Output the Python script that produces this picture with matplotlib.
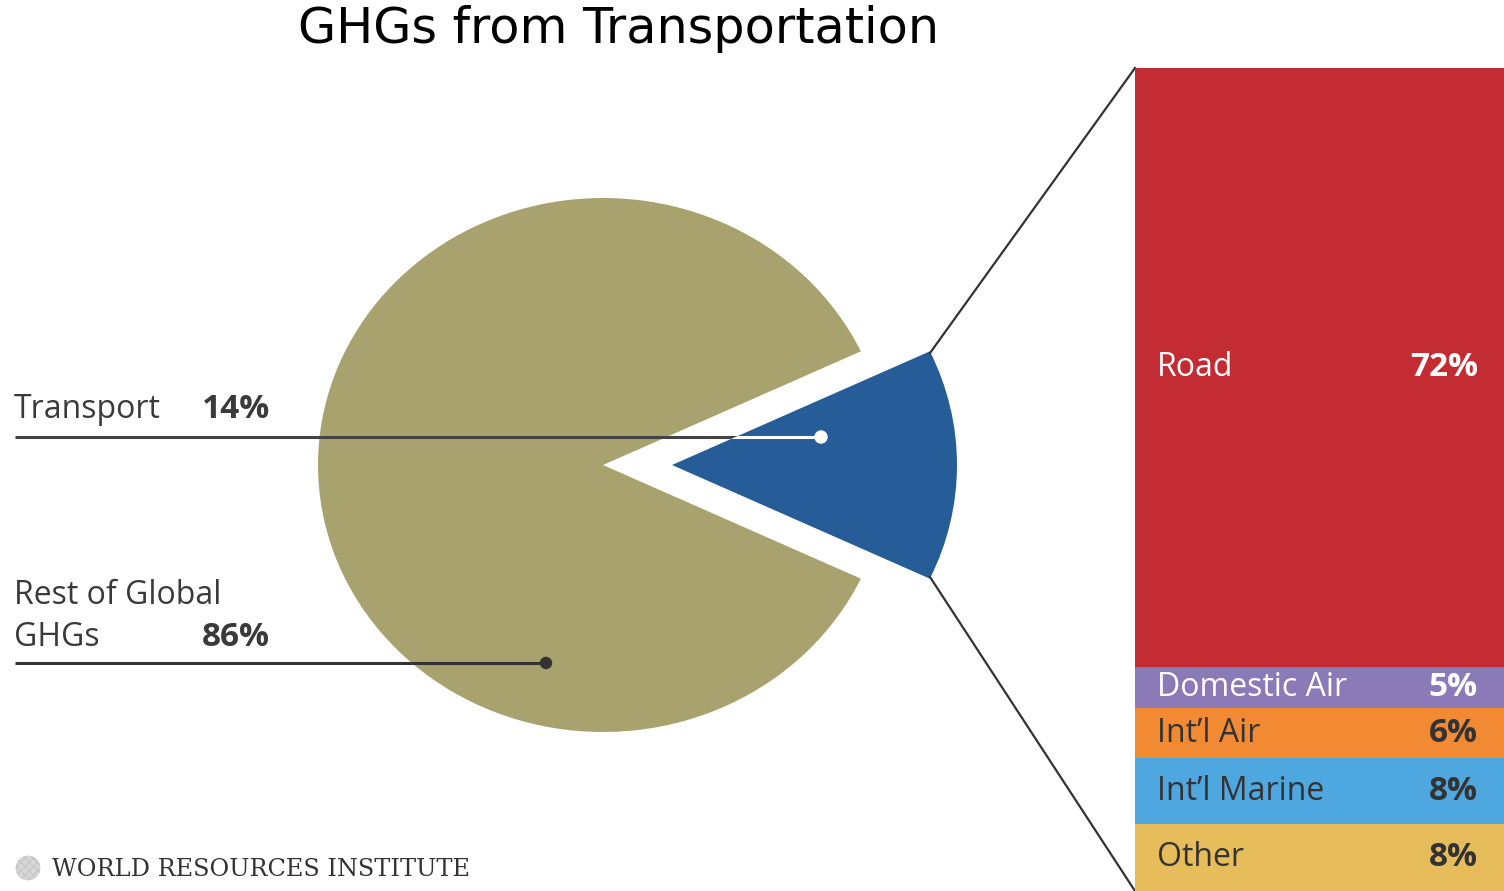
import matplotlib
matplotlib.use("Agg")
import matplotlib.pyplot as plt
from matplotlib.patches import Circle

# data
pie_labels = ["Transport", "Rest of Global\nGHGs"]
pie_values = [14, 86]
modes = ["Road", "Domestic Air", "Int\u2019l Air", "Int\u2019l Marine", "Other"]
mode_values = [72, 5, 6, 8, 8]

olive = "#A7A26E"
blue = "#265C98"
mode_colors = ["#C42C34", "#8A7AB8", "#F28A33", "#4EA7DE", "#E7BD5B"]
mode_text = ["white", "white", "#333333", "#333333", "#333333"]
dark = "#3a3a3a"

W, H = 1504, 891
fig = plt.figure(figsize=(W / 100, H / 100), dpi=100)
fig.patch.set_facecolor("white")

# pie axes: unit radius = 285 px horizontally, 267 px vertically, centre (603, 465)
cx, cy, rx, ry = 603, 465, 285, 267
pax = fig.add_axes([0, 0, 1, 1])
wedges, _ = pax.pie(pie_values, colors=[blue, olive], startangle=-pie_values[0] * 3.6 / 2,
                    explode=[69 / rx, 0], radius=1, wedgeprops=dict(linewidth=0))
pax.set_aspect("auto")
pax.set_xlim(-cx / rx, (W - cx) / rx)
pax.set_ylim(-(H - cy) / ry, cy / ry)
pax.axis("off")

# overlay in pixel coordinates
ov = fig.add_axes([0, 0, 1, 1])
ov.set_xlim(0, W)
ov.set_ylim(H, 0)
ov.axis("off")
ov.patch.set_alpha(0)

ov.text(619, 29, "GHGs from Transportation", ha="center", va="center",
        fontsize=35.5, family="DejaVu Sans", color="black")

lab_font = "Open Sans"
# transport label and leader
ov.text(14, 409, "Transport", ha="left", va="center", fontsize=23, family=lab_font, color=dark)
ov.text(270, 409, f"{pie_values[0]}%", ha="right", va="center", fontsize=24,
        family=lab_font, weight="bold", color=dark)
ov.plot([15, 821], [437, 437], color="#444444", lw=2.2, solid_capstyle="butt")
wl, = ov.plot([15, 821], [437, 437], color="white", lw=2.2, solid_capstyle="butt")
wl.set_clip_path(wedges[0])
ov.add_patch(Circle((821, 437), 6, color="white", zorder=5))

# rest label and leader
ov.text(14, 595, "Rest of Global", ha="left", va="center", fontsize=23, family=lab_font, color=dark)
ov.text(14, 637, "GHGs", ha="left", va="center", fontsize=23, family=lab_font, color=dark)
ov.text(270, 637, f"{pie_values[1]}%", ha="right", va="center", fontsize=24,
        family=lab_font, weight="bold", color=dark)
ov.plot([15, 546], [663, 663], color="#333333", lw=2.2, solid_capstyle="butt")
ov.add_patch(Circle((546, 663), 5.5, color="#333333", zorder=5))

# connector lines
ov.plot([930, 1135], [353, 68], color="#333333", lw=1.6)
ov.plot([930, 1135], [577, 891], color="#333333", lw=1.6)

# footer
ov.add_patch(Circle((28, 868), 12, facecolor="#d8d8d8", edgecolor="#c8c8c8",
                    hatch="xxxx", lw=0.5))
ov.text(52, 869, "WORLD RESOURCES INSTITUTE", ha="left", va="center", fontsize=17.3,
        family="DejaVu Serif", color="#333333")

# stacked bar
bax = fig.add_axes([1135 / W, 0, (W - 1135) / W, (H - 68) / H])
bottom = 0
for name, val, col, tc in zip(modes, mode_values, mode_colors, mode_text):
    bax.bar(0, val, bottom=bottom, width=1, color=col, linewidth=0)
    mid = bottom + val / 2
    bax.text(22 / 369, mid, name, transform=bax.get_yaxis_transform(), ha="left",
             va="center", fontsize=23, family=lab_font, color=tc)
    bax.text(1 - 26 / 369, mid, f"{val}%", transform=bax.get_yaxis_transform(),
             ha="right", va="center", fontsize=24, family=lab_font, weight="bold", color=tc)
    bottom += val
bax.set_xlim(-0.5, 0.5)
bax.set_ylim(sum(mode_values), 0)
bax.axis("off")

fig.savefig("out.png", dpi=100, facecolor="white")
